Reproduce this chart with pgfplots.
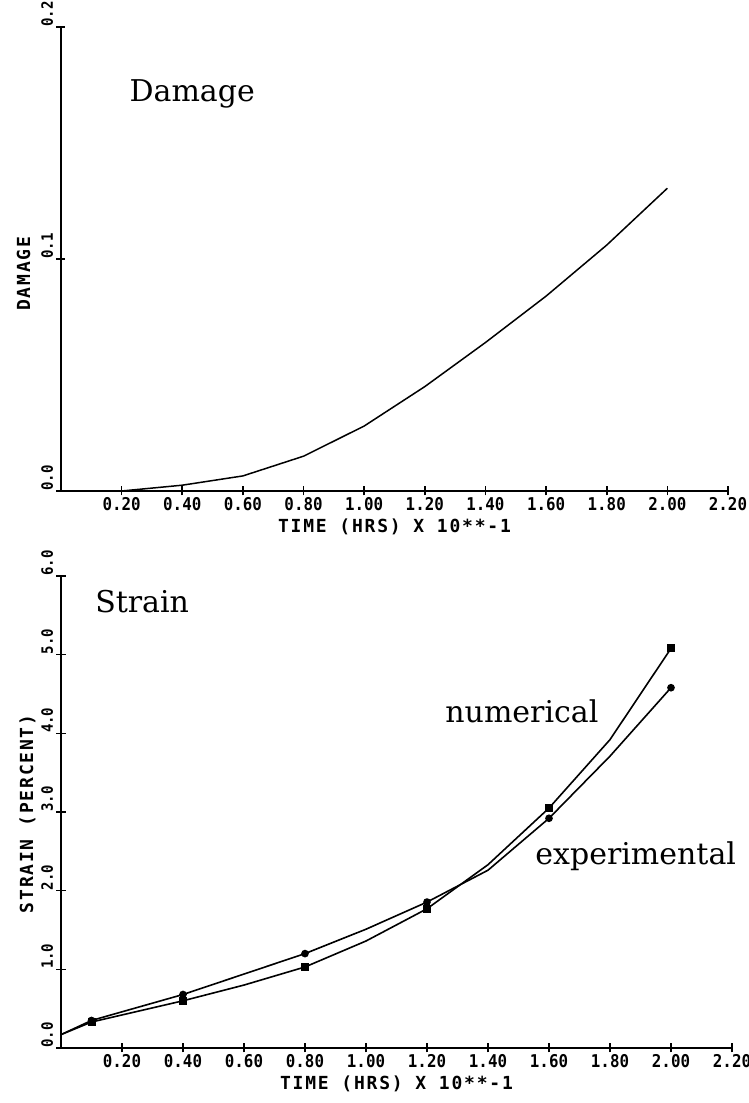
\documentclass[border=0pt]{standalone}
\usepackage{fontspec}
\usepackage{pgfplots}
\pgfplotsset{compat=1.18}
\setmainfont{DejaVu Serif}
\newfontfamily\plotfont{DejaVu Sans Mono}[FakeStretch=0.9]
\newfontfamily\labelfont{DejaVu Sans Mono}[LetterSpace=10]

\tikzset{
  note/.style={anchor=base west, inner sep=0pt, font=\fontsize{15}{18}\selectfont},
  lbl/.style={font=\fontsize{9}{10}\labelfont\bfseries},
}
\pgfplotsset{
  plotter/.style={
    scale only axis,
    axis lines=left,
    axis line style={-, line width=1.1pt},
    every outer x axis line/.append style={-},
    every outer y axis line/.append style={-},
    xmin=0, xmax=2.2,
    xtick={0.2,0.4,0.6,0.8,1.0,1.2,1.4,1.6,1.8,2.0,2.2},
    xticklabels={0.20,0.40,0.60,0.80,1.00,1.20,1.40,1.60,1.80,2.00,2.20},
    tick align=center,
    major tick length=4.5pt,
    tick style={line width=0.8pt, black},
    xticklabel style={font=\fontsize{8.8}{9}\plotfont\bfseries, inner sep=1pt},
    yticklabel style={font=\fontsize{7.8}{9}\plotfont\bfseries,
      rotate=90, anchor=south west, inner xsep=0pt, inner ysep=1.5pt},
    clip=false,
  },
  every axis plot/.append style={black, line width=0.8pt},
}

\begin{document}
\begin{tikzpicture}
\useasboundingbox (-30.5pt,-27.5pt) rectangle (344pt,524pt);

% damage
\begin{axis}[plotter, at={(0pt,278.5pt)}, anchor=south west,
  width=333.5pt, height=232pt,
  ymin=0, ymax=0.2, ytick={0,0.1,0.2}, yticklabels={0.0,0.1,0.2},
  xlabel={TIME (HRS) X 10**-1}, ylabel={DAMAGE},
  every axis x label/.style={lbl, at={(axis description cs:0.5,-0.0776)}, anchor=center},
  every axis y label/.style={lbl, at={(axis description cs:-0.0562,0.468)}, rotate=90, anchor=center}]
\addplot[no marks, line width=0.75pt] coordinates {
  (0,0) (0.2,0) (0.4,0.0025) (0.6,0.0065) (0.8,0.015) (1.0,0.028)
  (1.2,0.045) (1.4,0.064) (1.6,0.084) (1.8,0.106) (2.0,0.1305)};
\node[note] at (axis cs:0.225,0.168) {Damage};
\end{axis}

% strain
\begin{axis}[plotter, at={(0pt,0pt)}, anchor=south west,
  width=335.5pt, height=236pt,
  ymin=0, ymax=6, ytick={0,1,2,3,4,5,6},
  yticklabels={0.0,1.0,2.0,3.0,4.0,5.0,6.0},
  xlabel={TIME (HRS) X 10**-1}, ylabel={STRAIN (PERCENT)},
  every axis x label/.style={lbl, at={(axis description cs:0.5,-0.0763)}, anchor=center},
  every axis y label/.style={lbl, at={(axis description cs:-0.05,0.496)}, rotate=90, anchor=center}]
\addplot[mark=square*, mark size=1.6pt, mark indices={2,3,5,7,9,11}] coordinates {
  (0,0.17) (0.1,0.33) (0.4,0.60) (0.6,0.80) (0.8,1.03) (1.0,1.36)
  (1.2,1.77) (1.4,2.33) (1.6,3.05) (1.8,3.92) (2.0,5.08)};
\addplot[mark=*, mark size=1.5pt, mark indices={2,3,5,7,9,11}] coordinates {
  (0,0.17) (0.1,0.35) (0.4,0.68) (0.6,0.94) (0.8,1.20) (1.0,1.51)
  (1.2,1.855) (1.4,2.26) (1.6,2.92) (1.8,3.71) (2.0,4.58)};
\node[note] at (axis cs:0.111,5.53) {Strain};
\node[note] at (axis cs:1.259,4.14) {numerical};
\node[note] at (axis cs:1.554,2.33) {experimental};
\end{axis}
\end{tikzpicture}
\end{document}
